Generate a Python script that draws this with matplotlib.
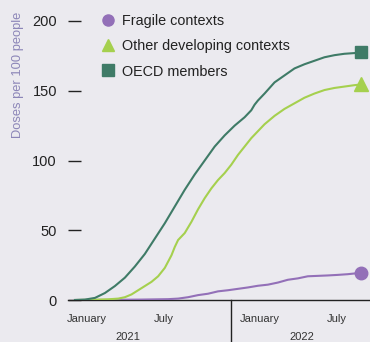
import matplotlib
matplotlib.use("Agg")
import matplotlib.pyplot as plt
from matplotlib.lines import Line2D
import matplotlib.transforms as mtransforms

plt.rcParams['font.family'] = ['Liberation Sans', 'DejaVu Sans']

# x values are week numbers counted from the first data point
oecd_weeks = [0, 3, 6, 9, 12, 15, 18, 21, 24, 27, 30, 33, 36, 39, 42, 45, 48, 51, 53, 54, 55,
              57, 60, 63, 66, 69, 72, 75, 78, 81, 84, 86]
oecd_vals = [0, 0.3, 1.5, 5, 10, 16, 24, 33, 44, 55, 67, 79, 90, 100, 110, 118, 125, 131, 136, 140, 143,
             148, 156, 161, 166, 169, 171.5, 174, 175.5, 176.5, 177, 177.5]

other_weeks = [0, 6, 10, 13, 15, 17, 19, 21, 23, 25, 27, 29, 30, 31, 33, 35, 37, 39, 41, 43, 45,
               47, 49, 51, 53, 55, 57, 60, 63, 66, 69, 72, 75, 78, 81, 84, 86]
other_vals = [0, 0.2, 0.5, 1, 2, 4, 7, 10, 13, 17, 23, 32, 38, 43, 48, 56, 65, 73, 80, 86, 91,
              97, 104, 110, 116, 121, 126, 132, 137, 141, 145, 148, 150.5, 152, 153, 154, 154.5]

fragile_weeks = [0, 10, 20, 28, 31, 34, 37, 40, 43, 46, 49, 52, 55, 58, 61, 64, 67, 70, 73, 76,
                 79, 82, 84, 86]
fragile_vals = [0, 0.1, 0.3, 0.6, 1, 2, 3.5, 4.5, 6.2, 7, 8, 9, 10.2, 11, 12.5, 14.5, 15.5, 17, 17.3, 17.6,
                18, 18.5, 19, 19.3]

month_ticks = [3.6, 26.7, 55.6, 78.8]
month_labels = ['January', 'July', 'January', 'July']
year_pos = [15.9, 68.2]
year_labels = ['2021', '2022']
year_split = 46.8

bg = '#EBEAEF'
c_fragile = '#9370B8'
c_other = '#A5D04E'
c_oecd = '#3F7B67'

fig = plt.figure(figsize=(3.7, 3.42), dpi=100, facecolor=bg)
ax = fig.add_axes([68 / 370, 42 / 342, 302 / 370, 279 / 342], facecolor=bg)

ax.plot(fragile_weeks, fragile_vals, color=c_fragile, lw=1.5, zorder=3)
ax.plot(other_weeks, other_vals, color=c_other, lw=1.5, zorder=3)
ax.plot(oecd_weeks, oecd_vals, color=c_oecd, lw=1.5, zorder=3)

# end markers
ax.plot(fragile_weeks[-1], fragile_vals[-1], 'o', color=c_fragile, ms=9, clip_on=False, zorder=4)
ax.plot(other_weeks[-1], other_vals[-1], '^', color=c_other, ms=9.5, clip_on=False, zorder=4)
ax.plot(oecd_weeks[-1], oecd_vals[-1], 's', color=c_oecd, ms=8.5, clip_on=False, zorder=4)

ax.set_xlim(-2.1, 88.7)
ax.set_ylim(0, 200)

for s in ['left', 'right', 'top']:
    ax.spines[s].set_visible(False)
ax.spines['bottom'].set_color('#222222')
ax.spines['bottom'].set_linewidth(1.0)

ax.set_yticks([0, 50, 100, 150, 200])
ax.tick_params(axis='y', direction='in', length=9.5, width=1.0, color='#222222',
               pad=8, labelsize=10.5, labelcolor='#222222')
ax.set_xticks(month_ticks)
ax.set_xticklabels(month_labels)
ax.tick_params(axis='x', length=0, pad=10, labelsize=8, labelcolor='#333333')

trans = mtransforms.blended_transform_factory(ax.transData, ax.transAxes)
ax.plot([year_split, year_split], [0, -0.16], color='#222222', lw=1.0,
        transform=trans, clip_on=False)
for xp, lab in zip(year_pos, year_labels):
    ax.text(xp, -0.132, lab, transform=trans, ha='center', va='center',
            fontsize=8, color='#333333')

fig.text(18 / 370, 1 - 12 / 342, 'Doses per 100 people', rotation=90, ha='center', va='top',
         fontsize=9.3, color='#8C86B8')

handles = [
    Line2D([], [], marker='o', ls='', color=c_fragile, ms=8),
    Line2D([], [], marker='^', ls='', color=c_other, ms=9),
    Line2D([], [], marker='s', ls='', color=c_oecd, ms=8),
]
ax.legend(handles, ['Fragile contexts', 'Other developing contexts', 'OECD members'],
          loc='upper left', bbox_to_anchor=(102 / 370, 1 - 14 / 342), bbox_transform=fig.transFigure,
          frameon=False, fontsize=10.4, handlelength=0.8, handletextpad=0.6,
          labelspacing=0.78, borderpad=0, borderaxespad=0, labelcolor='#222222')

fig.savefig('out.png', dpi=100, facecolor=bg)
